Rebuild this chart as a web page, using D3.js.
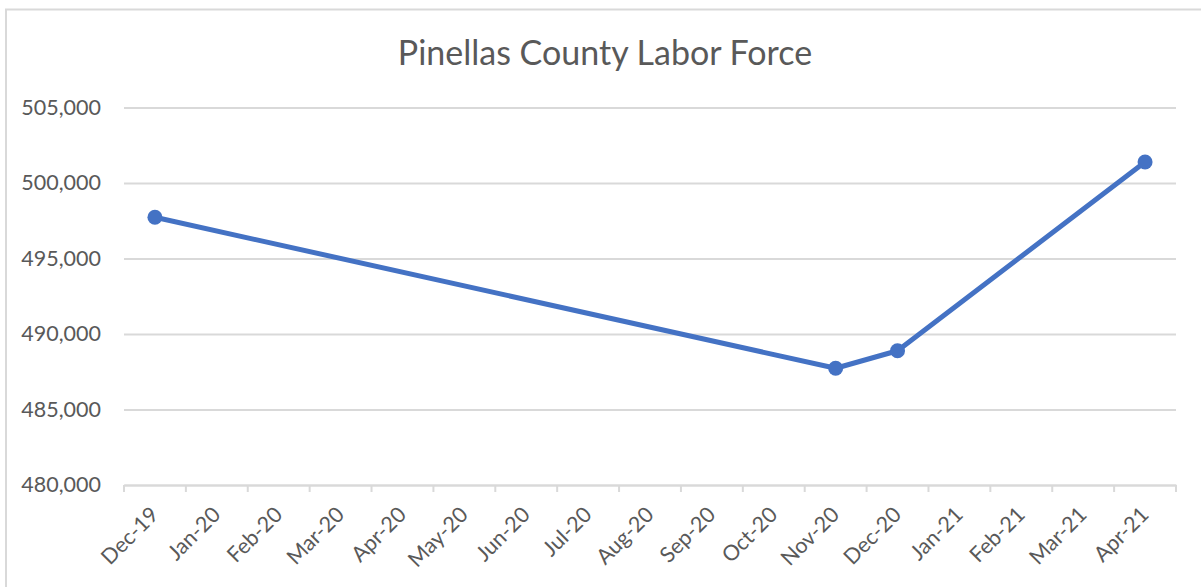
<!DOCTYPE html>
<html>
<head>
<meta charset="utf-8">
<script src="https://cdn.jsdelivr.net/npm/d3@7"></script>
<style>
  html, body { margin: 0; padding: 0; background: #fff; }
  svg { display: block; }
  text { font-family: Lato, "Open Sans", sans-serif; fill: #595959; }
</style>
</head>
<body>
<svg id="chart" width="1201" height="587"></svg>
<script>
const title = "Pinellas County Labor Force";
const categories = ["Dec-19","Jan-20","Feb-20","Mar-20","Apr-20","May-20","Jun-20","Jul-20","Aug-20","Sep-20","Oct-20","Nov-20","Dec-20","Jan-21","Feb-21","Mar-21","Apr-21"];
const pointMonths = ["Dec-19","Nov-20","Dec-20","Apr-21"];
const laborForce = [497730, 487730, 488890, 501390];
const yTicks = [480000, 485000, 490000, 495000, 500000, 505000];

const svg = d3.select("#chart");
const W = 1201, H = 587;
const plot = { left: 124, right: 1176, top: 107.5, bottom: 485 };

// outer border (chart area frame)
svg.append("rect")
  .attr("x", 6).attr("y", 9.5)
  .attr("width", W + 20).attr("height", H + 20)
  .attr("fill", "none").attr("stroke", "#d9d9d9").attr("stroke-width", 2);

const x = d3.scaleBand().domain(categories).range([plot.left, plot.right]).padding(0);
const y = d3.scaleLinear().domain([480000, 505000]).range([plot.bottom, plot.top]);

// title
svg.append("text")
  .attr("x", 605).attr("y", 65)
  .attr("text-anchor", "middle")
  .style("font-size", "34px")
  .text(title);

// gridlines + y labels
const yAxis = d3.axisLeft(y).tickValues(yTicks)
  .tickSize(-(plot.right - plot.left))
  .tickPadding(23)
  .tickFormat(d3.format(","));
const gy = svg.append("g").attr("transform", `translate(${plot.left},0)`).call(yAxis);
gy.select(".domain").remove();
gy.selectAll(".tick line").attr("stroke", "#d9d9d9").attr("stroke-width", 2);
gy.selectAll(".tick text").style("font-size", "21.5px").attr("fill", "#595959");

// x axis
const xAxis = d3.axisBottom(x).tickSize(0).tickFormat(d => d);
const gx = svg.append("g").attr("transform", `translate(0,${plot.bottom})`).call(xAxis);
gx.select(".domain").attr("stroke", "#d9d9d9").attr("stroke-width", 2);
// tick marks at category boundaries
const boundaries = categories.map(c => x(c)).concat([x(categories[categories.length-1]) + x.bandwidth()]);
gx.selectAll(".bound").data(boundaries).enter().append("line")
  .attr("class", "bound")
  .attr("x1", d => d).attr("x2", d => d)
  .attr("y1", 0).attr("y2", 7)
  .attr("stroke", "#d9d9d9").attr("stroke-width", 2);
gx.selectAll(".tick text")
  .style("font-size", "21.5px")
  .attr("fill", "#595959")
  .attr("text-anchor", "end")
  .attr("dy", null)
  .attr("y", 0)
  .attr("transform", "translate(5,31) rotate(-45)");

// line + markers
const pts = pointMonths.map((m, i) => ({ m, v: laborForce[i] }));
const cx = d => x(d.m) + x.bandwidth() / 2;
const line = d3.line().x(cx).y(d => y(d.v));
svg.append("path").datum(pts)
  .attr("d", line)
  .attr("fill", "none")
  .attr("stroke", "#4472c4")
  .attr("stroke-width", 5)
  .attr("stroke-linejoin", "round");
svg.selectAll(".pt").data(pts).enter().append("circle")
  .attr("class", "pt")
  .attr("cx", cx).attr("cy", d => y(d.v))
  .attr("r", 7.5)
  .attr("fill", "#4472c4");
</script>
</body>
</html>
